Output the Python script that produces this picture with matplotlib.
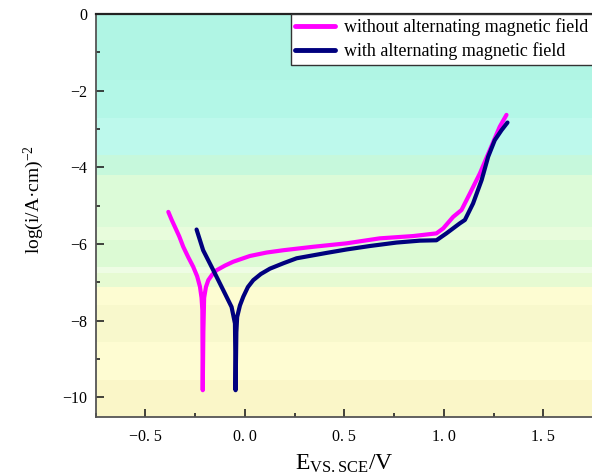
import matplotlib
matplotlib.use("Agg")
import matplotlib.pyplot as plt
from matplotlib.ticker import MultipleLocator, FuncFormatter

plt.rcParams['font.family'] = ['Liberation Serif', 'DejaVu Serif']
plt.rcParams['mathtext.fontset'] = 'custom'
plt.rcParams['mathtext.rm'] = 'Liberation Serif'
plt.rcParams['mathtext.it'] = 'Liberation Serif:italic'

# polarization curves
e_without = [-0.385, -0.368, -0.352, -0.33, -0.31, -0.285, -0.26, -0.24,
             -0.226, -0.218, -0.214, -0.213, -0.212,
             -0.209, -0.205, -0.196, -0.184, -0.165, -0.142, -0.1, -0.059,
             0.025, 0.109, 0.193, 0.343, 0.511, 0.678, 0.846, 0.963, 0.997,
             1.047, 1.089, 1.131, 1.181, 1.231, 1.281, 1.315]
logi_without = [-5.16, -5.37, -5.55, -5.8, -6.07, -6.34, -6.59, -6.84,
                -7.11, -7.4, -7.72, -8.8, -9.81,
                -8.3, -7.4, -7.12, -6.94, -6.8, -6.68, -6.56, -6.46,
                -6.31, -6.22, -6.16, -6.07, -5.98, -5.85, -5.79, -5.72, -5.59,
                -5.29, -5.11, -4.68, -4.16, -3.55, -2.94, -2.63]

e_with = [-0.243, -0.21, -0.159, -0.109, -0.067, -0.05, -0.048, -0.047,
          -0.043, -0.039, -0.025, -0.008, 0.015, 0.042, 0.08, 0.126, 0.193,
          0.26, 0.41, 0.511, 0.628, 0.762, 0.879, 0.963, 1.013, 1.08, 1.106,
          1.147, 1.19, 1.223, 1.256, 1.29, 1.32]
logi_with = [-5.62, -6.16, -6.68, -7.2, -7.64, -8.07, -9.0, -9.81,
             -8.3, -7.9, -7.6, -7.37, -7.12, -6.94, -6.78, -6.64, -6.5,
             -6.37, -6.23, -6.14, -6.05, -5.96, -5.91, -5.9, -5.72, -5.46,
             -5.37, -4.94, -4.33, -3.72, -3.29, -3.03, -2.83]

labels = ['without alternating magnetic field', 'with alternating magnetic field']
colors = ['#ff00ff', '#00007e']

# background bands (top of band, colour)
band_tops = [0, -1.72, -2.71, -3.68, -4.2, -5.56, -5.9, -6.6, -6.76, -7.12,
             -7.59, -8.56, -9.55]
band_colors = ['#b0f5e4', '#b3f7e7', '#bdf9ec', '#c6f8dc', '#dcfbd8',
               '#e8fcdc', '#dcfad4', '#eefce4', '#e6fad2', '#fdfcd2',
               '#f8f8cc', '#fefcd2', '#faf6c8']

fig = plt.figure(figsize=(5.92, 4.75), dpi=100)
ax = fig.add_axes([0.1617, 0.1228, 0.8400, 0.8477])

ymin, ymax = -10.5, 0
for i, top in enumerate(band_tops):
    bot = band_tops[i + 1] if i + 1 < len(band_tops) else ymin
    ax.axhspan(bot, top, color=band_colors[i], lw=0, zorder=0)

ax.plot(e_without, logi_without, color=colors[0], lw=3.0,
        solid_joinstyle='round', solid_capstyle='round', label=labels[0], zorder=3)
ax.plot(e_with, logi_with, color=colors[1], lw=3.0,
        solid_joinstyle='round', solid_capstyle='round', label=labels[1], zorder=3)

ax.set_xlim(-0.75, 1.75)
ax.set_ylim(ymin, ymax)

ax.xaxis.set_major_locator(MultipleLocator(0.5))
ax.xaxis.set_minor_locator(MultipleLocator(0.25))
ax.yaxis.set_major_locator(MultipleLocator(2))
ax.yaxis.set_minor_locator(MultipleLocator(1))
ax.xaxis.set_major_formatter(FuncFormatter(
    lambda v, p: f"{v:.1f}".replace('.', '. ').replace('-', '\u2212')))
ax.yaxis.set_major_formatter(FuncFormatter(
    lambda v, p: f"{v:.0f}".replace('-', '\u2212')))

ax.tick_params(which='both', direction='in', top=False, right=False,
               labelsize=11.5, width=1.2, color='#222222')
ax.tick_params(which='major', length=6)
ax.tick_params(which='minor', length=3)
ax.tick_params(axis='x', pad=9)
ax.tick_params(axis='y', pad=6)

for s in ['left', 'bottom']:
    ax.spines[s].set_color('#555555')
    ax.spines[s].set_linewidth(1.3)
ax.spines['top'].set_color('#222222')
ax.spines['top'].set_linewidth(1.6)
ax.spines['right'].set_visible(False)

ax.set_ylabel("log(i/A\u00b7cm)$^{\u22122}$", fontsize=14)
ax.yaxis.set_label_coords(-0.10, 0.54)
ax.set_xlabel(r"E$_{\mathregular{VS.SCE}}$/V", fontsize=17)
ax.xaxis.set_label_coords(0.5, -0.09)

leg = ax.legend(loc='upper right', bbox_to_anchor=(1.0, 1.0), borderaxespad=0,
                fancybox=False, framealpha=1, edgecolor='#333333',
                fontsize=13, handlelength=2.2, handletextpad=0.5,
                borderpad=0.25, labelspacing=0.32)
leg.get_frame().set_linewidth(1.0)
for line in leg.get_lines():
    line.set_linewidth(3.5)

fig.savefig('out.png', dpi=100)
